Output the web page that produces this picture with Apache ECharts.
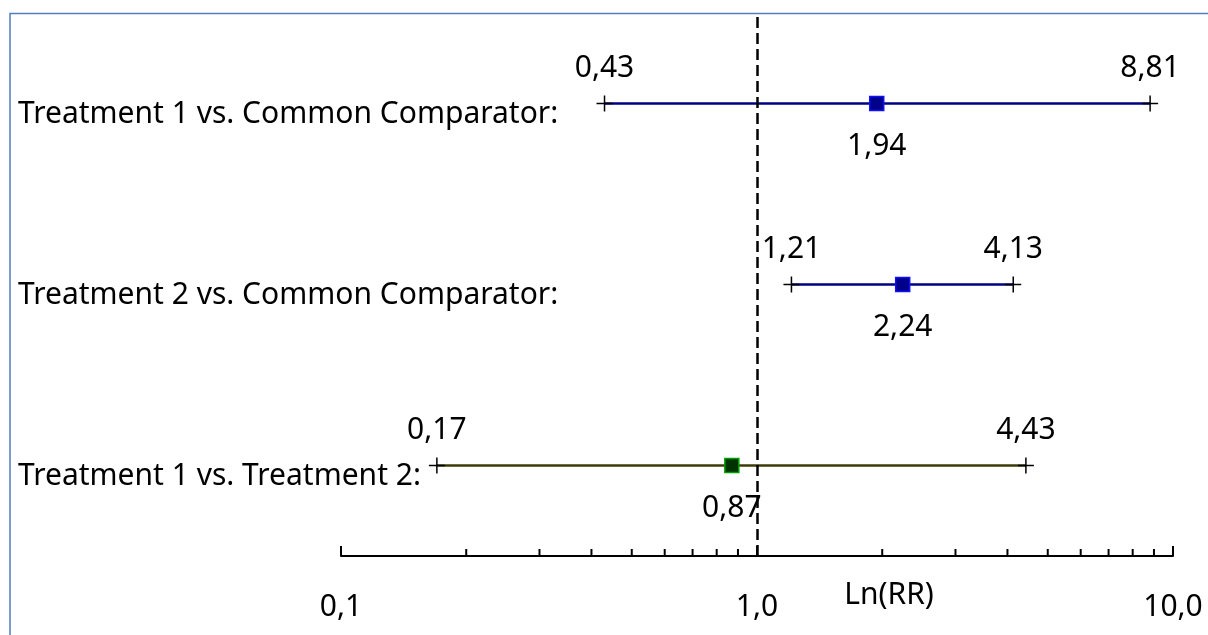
<!DOCTYPE html>
<html>
<head>
<meta charset="utf-8">
<script src="https://cdn.jsdelivr.net/npm/echarts@6/dist/echarts.min.js"></script>
<style>
html,body{margin:0;padding:0;background:#fff;}
#chart{width:1208px;height:635px;}
</style>
</head>
<body>
<div id="chart"></div>
<script>
// ---- data ----
const rowLabels = ['Treatment 1 vs. Common Comparator:', 'Treatment 2 vs. Common Comparator:', 'Treatment 1 vs. Treatment 2:'];
const lowerCI = [0.43, 1.21, 0.17];
const estimates = [1.94, 2.24, 0.87];
const upperCI = [8.81, 4.13, 4.43];
const rowPositions = [2.5, 1.5, 0.5];
const majorTickValues = [0.1, 1, 10];
const majorTickLabels = ['0,1', '1,0', '10,0'];
const minorTickValues = [0.2, 0.3, 0.4, 0.5, 0.6, 0.7, 0.8, 0.9, 2, 3, 4, 5, 6, 7, 8, 9];
const axisTitle = 'Ln(RR)';
const referenceValue = 1;

// ---- styles ----
const lineColors = ['#000080', '#000080', '#3c3c08'];
const markerFills = ['#00008a', '#00008a', '#003300'];
const markerBorders = ['#1010ff', '#1010ff', '#00a000'];
const FONT = '"Noto Sans", "DejaVu Sans", sans-serif';
const FS = 30;

const fmt = v => v.toFixed(2).replace('.', ',');

const rows = rowLabels.map((l, i) => [rowPositions[i], lowerCI[i], estimates[i], upperCI[i], i]);

const chart = echarts.init(document.getElementById('chart'), null, {renderer: 'canvas'});

function textEl(x, y, str, align) {
  return {
    type: 'text',
    style: {
      x: x, y: y, text: str,
      font: FS + 'px ' + FONT,
      fill: '#000',
      align: align || 'center',
      verticalAlign: 'middle'
    }
  };
}

chart.setOption({
  animation: false,
  backgroundColor: '#fff',
  grid: {left: 341, right: 35, top: 13, bottom: 79, outerBoundsMode: 'none', containLabel: false},
  xAxis: {
    type: 'log', logBase: 10, min: 0.1, max: 10, interval: 1,
    axisLine: {show: true, lineStyle: {color: '#000', width: 2}},
    axisTick: {show: true, inside: true, length: 10, lineStyle: {color: '#000', width: 2}},
    minorTick: {show: false},
    splitLine: {show: false},
    axisLabel: {
      show: true, margin: 36, color: '#000', fontFamily: FONT, fontSize: FS,
      formatter: v => {
        const k = Math.round(Math.log10(v)) + 1;
        return majorTickLabels[k] !== undefined ? majorTickLabels[k] : '';
      },
      showMinLabel: true, showMaxLabel: true
    }
  },
  yAxis: {type: 'value', min: 0, max: 3, show: false},
  graphic: [
    {type: 'rect', shape: {x: 10, y: 13.5, width: 1400, height: 800},
     style: {fill: 'none', stroke: '#4f7fc0', lineWidth: 1.5}, z: 0, silent: true},
    {type: 'text', x: 889, y: 595,
     style: {text: axisTitle, font: FS + 'px ' + FONT, fill: '#000', align: 'center', verticalAlign: 'middle'}}
  ],
  series: [
    {
      type: 'custom',
      coordinateSystem: 'cartesian2d',
      data: minorTickValues.map(v => [v, 0]),
      clip: false,
      z: 3,
      renderItem: (params, api) => {
        const p = api.coord([api.value(0), 0]);
        return {type: 'line', shape: {x1: p[0], y1: p[1], x2: p[0], y2: p[1] - 7},
          style: {stroke: '#000', lineWidth: 2}};
      }
    },
    {
      type: 'custom',
      coordinateSystem: 'cartesian2d',
      data: rows,
      encode: {x: [1, 2, 3], y: 0},
      clip: false,
      z: 4,
      renderItem: (params, api) => {
        const y = api.value(0), lo = api.value(1), est = api.value(2), hi = api.value(3);
        const idx = api.value(4);
        const pl = api.coord([lo, y]), pe = api.coord([est, y]), ph = api.coord([hi, y]);
        const c = 8;
        const s = 14;
        return {
          type: 'group',
          children: [
            textEl(18, pl[1] + 11, rowLabels[idx], 'left'),
            {type: 'line', shape: {x1: pl[0], y1: pl[1], x2: ph[0], y2: ph[1]},
              style: {stroke: lineColors[idx], lineWidth: 2.5}},
            {type: 'line', shape: {x1: pl[0] - c, y1: pl[1], x2: pl[0] + c, y2: pl[1]}, style: {stroke: '#000', lineWidth: 1.5}},
            {type: 'line', shape: {x1: pl[0], y1: pl[1] - c, x2: pl[0], y2: pl[1] + c}, style: {stroke: '#000', lineWidth: 1.5}},
            {type: 'line', shape: {x1: ph[0] - c, y1: ph[1], x2: ph[0] + c, y2: ph[1]}, style: {stroke: '#000', lineWidth: 1.5}},
            {type: 'line', shape: {x1: ph[0], y1: ph[1] - c, x2: ph[0], y2: ph[1] + c}, style: {stroke: '#000', lineWidth: 1.5}},
            {type: 'rect', shape: {x: pe[0] - s / 2, y: pe[1] - s / 2, width: s, height: s},
              style: {fill: markerFills[idx], stroke: markerBorders[idx], lineWidth: 1.5}},
            textEl(pl[0], pl[1] - 35, fmt(lo)),
            textEl(ph[0], ph[1] - 35, fmt(hi)),
            textEl(pe[0], pe[1] + 43, fmt(est))
          ]
        };
      },
      markLine: {
        silent: true,
        symbol: ['none', 'none'],
        label: {show: false},
        lineStyle: {color: '#000', width: 2.5, type: [11, 5]},
        data: [{xAxis: referenceValue}],
        z: 5
      }
    }
  ]
});
</script>
</body>
</html>
